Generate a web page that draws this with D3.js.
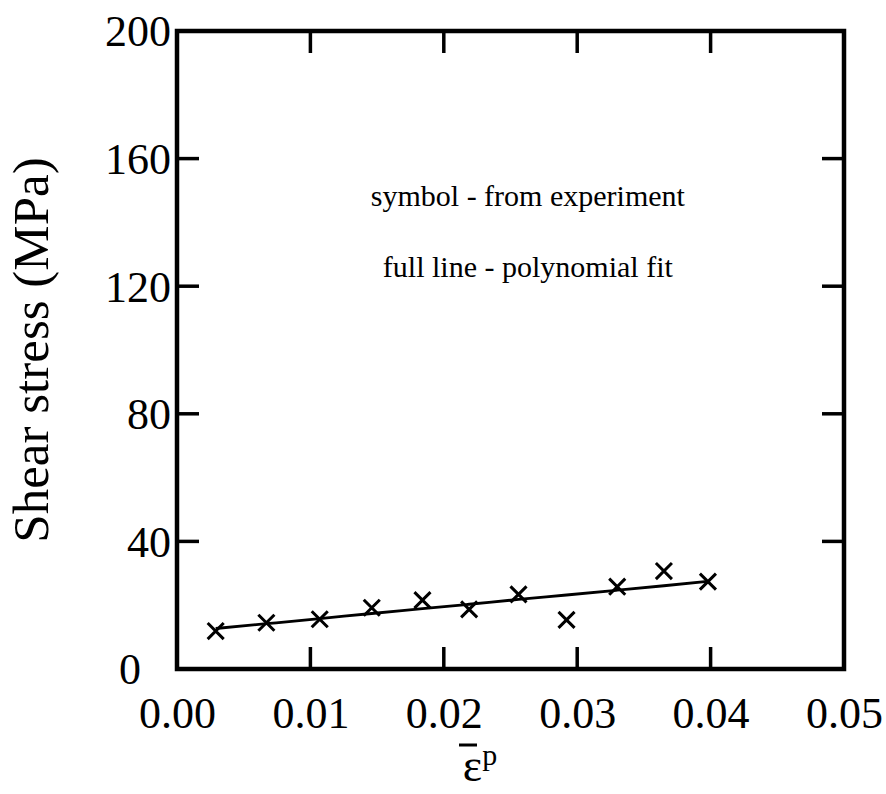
<!DOCTYPE html>
<html>
<head>
<meta charset="utf-8">
<script src="https://cdn.jsdelivr.net/npm/d3@7"></script>
<style>
  html, body { margin: 0; padding: 0; background: #fff; }
  svg { display: block; }
  text { font-family: "Liberation Serif", "Times New Roman", serif; fill: #000; }
</style>
</head>
<body>
<script>
// Experimental shear stress vs. equivalent plastic strain
const strainValues = [0.0029, 0.0067, 0.0107, 0.0146, 0.0184, 0.0219, 0.0256, 0.0292, 0.0330, 0.0365, 0.0398];
const stressValues = [11.9, 14.5, 15.6, 19.2, 21.6, 18.7, 23.4, 15.4, 25.8, 30.7, 27.4];
// Polynomial fit evaluated at the same strains
const fitValues = [12.7, 14.2, 15.8, 17.4, 18.9, 20.3, 21.8, 23.2, 24.7, 26.1, 27.5];

const xTicks = [0.00, 0.01, 0.02, 0.03, 0.04, 0.05];
const yTicks = [0, 40, 80, 120, 160, 200];
const legendLines = ["symbol - from experiment", "full line - polynomial fit"];

const W = 886, H = 794;
const margin = { left: 177, top: 31, right: 42, bottom: 125 };
const iw = W - margin.left - margin.right;
const ih = H - margin.top - margin.bottom;

const svg = d3.select("body").append("svg").attr("width", W).attr("height", H);
const g = svg.append("g").attr("transform", `translate(${margin.left},${margin.top})`);

const x = d3.scaleLinear().domain([0, 0.05]).range([0, iw]);
const y = d3.scaleLinear().domain([0, 200]).range([ih, 0]);

const tickLen = 22;
const inner = (t, lo, hi) => t > lo && t < hi;

// Axes: labels on bottom/left, inward ticks on all four sides
const xb = g.append("g").attr("transform", `translate(0,${ih})`)
  .call(d3.axisBottom(x).tickValues(xTicks).tickSize(0).tickPadding(28).tickFormat(d3.format(".2f")));
const yl = g.append("g")
  .call(d3.axisLeft(y).tickValues(yTicks).tickSize(0).tickPadding(6).tickFormat(d3.format("d")));
[xb, yl].forEach(a => {
  a.select(".domain").remove();
  a.selectAll("text").style("font-size", "44px").attr("font-family", null);
});
yl.selectAll("text").attr("dy", "0.34em");
// the zero label sits further left, under the column of digits
yl.selectAll(".tick").filter(d => d === 0).select("text").attr("x", -36);

const ticks = g.append("g").attr("stroke", "#000").attr("stroke-width", 3.5);
xTicks.filter(t => inner(t, 0, 0.05)).forEach(t => {
  ticks.append("line").attr("x1", x(t)).attr("x2", x(t)).attr("y1", ih).attr("y2", ih - tickLen);
  ticks.append("line").attr("x1", x(t)).attr("x2", x(t)).attr("y1", 0).attr("y2", tickLen);
});
yTicks.filter(t => inner(t, 0, 200)).forEach(t => {
  ticks.append("line").attr("y1", y(t)).attr("y2", y(t)).attr("x1", 0).attr("x2", tickLen);
  ticks.append("line").attr("y1", y(t)).attr("y2", y(t)).attr("x1", iw).attr("x2", iw - tickLen);
});

// Frame
g.append("rect").attr("width", iw).attr("height", ih)
  .attr("fill", "none").attr("stroke", "#000").attr("stroke-width", 4.5);

// Fit line
const fitPts = strainValues.map((s, i) => [s, fitValues[i]]);
g.append("path").datum(fitPts)
  .attr("fill", "none").attr("stroke", "#000").attr("stroke-width", 2.8)
  .attr("d", d3.line().x(d => x(d[0])).y(d => y(d[1])).curve(d3.curveMonotoneX));

// Experimental points as crosses
const cross = d3.symbol().type(d3.symbolX).size(170);
g.append("g").selectAll("path").data(strainValues.map((s, i) => [s, stressValues[i]])).join("path")
  .attr("transform", d => `translate(${x(d[0])},${y(d[1])})`)
  .attr("d", cross).attr("fill", "none").attr("stroke", "#000").attr("stroke-width", 3);

// Legend text
g.append("g").selectAll("text").data(legendLines).join("text")
  .attr("x", x(0.0263)).attr("y", (d, i) => 206 - margin.top + i * 71)
  .attr("text-anchor", "middle").style("font-size", "30px")
  .text(d => d);

// Axis titles
svg.append("text")
  .attr("transform", `translate(48,${margin.top + ih / 2}) rotate(-90)`)
  .attr("text-anchor", "middle").style("font-size", "51px")
  .text("Shear stress (MPa)");

const xc = 480;
const xt = svg.append("text").attr("x", xc).attr("y", 781)
  .attr("text-anchor", "middle").style("font-size", "46px");
xt.append("tspan").text("ε");
xt.append("tspan").attr("dy", "-0.55em").style("font-size", "30px").text("p");
// overbar above the epsilon
svg.append("line").attr("x1", xc - 21).attr("x2", xc - 3)
  .attr("y1", 745).attr("y2", 745).attr("stroke", "#000").attr("stroke-width", 3);
</script>
</body>
</html>
